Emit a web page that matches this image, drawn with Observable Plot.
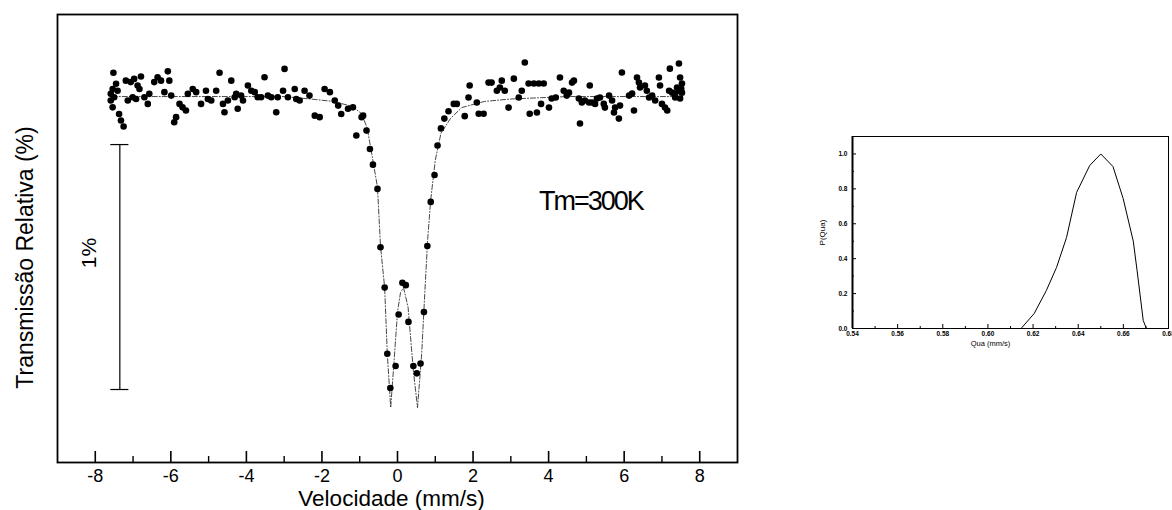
<!DOCTYPE html>
<html><head><meta charset="utf-8">
<script src="https://cdn.jsdelivr.net/npm/d3@7"></script>
<script src="https://cdn.jsdelivr.net/npm/@observablehq/plot@0.6"></script>
<style>
html,body{margin:0;padding:0;background:#fff;}
#wrap{position:relative;width:1172px;height:510px;overflow:hidden;background:#fff;}
#main{position:absolute;left:0;top:0;}
#inset{position:absolute;left:800px;top:120px;}
</style></head><body><div id="wrap"><div id="main"></div><div id="inset"></div></div>
<script>
// ---- Main spectrum: measured points (velocity mm/s, relative transmission %)
const velocity = [-7.52,-7.45,-7.54,-7.59,-7.50,-7.59,-7.54,-7.37,-7.32,-7.25,-7.41,-7.19,-7.06,-6.97,-6.88,-6.79,-6.83,-7.01,-7.14,-6.92,-6.70,-6.61,-6.57,-6.44,-6.35,-6.26,-6.08,-6.04,-6.17,-5.99,-5.86,-5.91,-5.77,-5.69,-5.60,-5.55,-5.42,-5.33,-5.20,-5.07,-5.02,-4.93,-4.80,-4.71,-4.62,-4.58,-4.49,-4.40,-4.31,-4.27,-4.23,-4.14,-4.09,-3.96,-3.87,-3.78,-3.70,-3.61,-3.52,-3.43,-3.34,-3.21,-3.17,-3.03,-2.99,-2.90,-2.72,-2.68,-2.59,-2.46,-2.33,-2.19,-2.06,-1.93,-1.79,-1.66,-1.57,-1.49,-1.31,-1.18,-1.09,-0.95,-0.91,-0.82,-0.73,-0.65,-0.53,-0.45,-0.34,-0.27,-0.19,-0.05,0.03,0.13,0.22,0.29,0.42,0.51,0.61,0.70,0.79,0.88,0.98,1.06,1.15,1.24,1.35,1.49,1.57,1.78,1.88,1.91,2.10,2.15,2.28,2.41,2.49,2.63,2.71,2.76,2.84,2.94,3.08,3.21,3.29,3.37,3.47,3.61,3.74,3.87,3.50,3.69,3.80,4.01,4.08,4.19,4.30,4.40,4.48,4.54,4.62,4.67,4.80,4.83,4.88,4.96,5.07,5.09,5.15,5.23,5.28,5.36,5.46,5.49,5.60,5.68,5.76,5.73,5.86,5.89,5.94,6.13,6.21,6.26,6.34,6.39,6.42,6.55,6.60,6.66,6.74,6.82,6.92,6.95,7.00,7.08,7.14,7.19,7.21,7.27,7.35,7.40,7.45,7.48,7.53,7.48,7.45,7.35,7.53,7.51];
const transmission = [100.097,100.052,100.031,100.011,99.997,99.984,99.956,99.929,99.902,99.878,100.024,100.065,100.059,100.072,100.045,100.082,100.031,99.997,99.984,99.990,99.997,99.970,100.011,100.059,100.079,100.065,100.103,100.065,100.018,100.004,99.916,99.895,99.970,99.956,99.943,100.011,100.031,100.018,99.970,100.024,99.990,99.984,100.024,100.097,99.970,99.936,99.984,100.065,99.997,100.011,99.950,100.004,99.984,100.045,100.024,100.018,99.997,99.997,100.079,100.004,99.997,99.936,99.997,100.024,100.113,99.997,100.031,99.990,99.984,100.024,100.004,99.922,99.916,100.031,100.018,99.984,99.963,99.929,99.950,99.956,99.841,99.916,99.922,99.861,99.786,99.722,99.623,99.385,99.22,98.95,98.81,98.90,99.11,99.24,99.23,99.08,98.90,98.87,98.91,99.12,99.39,99.57,99.68,99.80,99.87,99.91,99.94,99.97,99.97,99.92,99.996,100.045,99.976,99.93,99.93,100.057,100.057,100.024,100.037,100.065,100.024,99.955,100.073,99.996,100.024,100.139,100.053,100.053,100.053,100.053,99.93,99.935,99.97,99.955,99.992,99.996,100.078,100.024,100.004,100.016,100.057,100.065,99.992,99.89,99.976,99.984,99.976,100.045,99.976,99.97,99.992,99.996,99.97,99.955,100.004,99.984,99.955,99.935,99.91,99.963,100.098,100.004,100.012,99.943,100.078,100.057,100.037,100.045,100.024,99.996,100.004,99.984,100.078,100.045,99.97,99.955,99.943,100.024,100.114,100.016,100.012,100.037,100.135,100.078,100.053,99.992,100.024,99.996,100.016,100.033];

// ---- Fitted curve
const fitVelocity = [-7.55,-3.0,-2.3,-1.7,-1.2,-0.95,-0.8,-0.72,-0.63,-0.53,-0.45,-0.34,-0.27,-0.18,-0.1,0.0,0.08,0.16,0.28,0.42,0.53,0.64,0.72,0.8,0.88,1.0,1.15,1.4,1.7,2.3,3.0,4.5,7.55];
const fitTransmission = [100.0,100.0,99.99,99.98,99.96,99.93,99.87,99.8,99.72,99.63,99.39,99.22,98.95,98.73,98.9,99.12,99.2,99.22,99.14,98.88,98.73,98.95,99.19,99.42,99.58,99.74,99.85,99.91,99.955,99.98,99.99,100.0,100.0];

// ---- Axis ticks
const xTicks = [-8,-6,-4,-2,0,2,4,6,8];
const xMinorTicks = [-7,-5,-3,-1,1,3,5,7];

// ---- Scale bar (1 %) and annotation
const scaleBarVelocity = [-7.35];
const scaleBarBottom = [98.804];
const scaleBarTop = [99.804];
const temperatureLabel = ["Tm=300K"];
const temperatureVelocity = [5.12];
const temperatureTransmission = [99.571];

// ---- Inset: quadrupole splitting distribution
const qua = [0.54,0.6147,0.6205,0.6259,0.6304,0.6348,0.6393,0.6451,0.650,0.6554,0.6599,0.6644,0.6661,0.6688,0.6702];
const pQua = [0,0,0.086,0.218,0.35,0.52,0.78,0.934,1.0,0.928,0.745,0.50,0.33,0.046,0];
const quaTicks = [0.54,0.56,0.58,0.60,0.62,0.64,0.66,0.68];
const quaMinorTicks = [0.55,0.57,0.59,0.61,0.63,0.65,0.67];
const pTicks = [0,0.2,0.4,0.6,0.8,1.0];
const pMinorTicks = [0.1,0.3,0.5,0.7,0.9];

const points = velocity.map((v,i)=>({v, t: transmission[i]}));
const fit = fitVelocity.map((v,i)=>({v, t: fitTransmission[i]}));
const capHalf = 0.24;
const bar = scaleBarVelocity.map((v,i)=>({v, lo: scaleBarBottom[i], hi: scaleBarTop[i]}));
const caps = bar.flatMap(b => [{y: b.lo, x1: b.v - capHalf, x2: b.v + capHalf}, {y: b.hi, x1: b.v - capHalf, x2: b.v + capHalf}]);
const ann = temperatureLabel.map((s,i)=>({s, v: temperatureVelocity[i], t: temperatureTransmission[i]}));
const dist = qua.map((q,i)=>({q, p: pQua[i]}));

const FONT = '"Liberation Sans", Arial, Helvetica, sans-serif';
const mainH = 510, mTop = 14, mBottom = 48;
const plotH = mainH - mTop - mBottom;

const main = Plot.plot({
  width: 760, height: mainH,
  marginLeft: 57, marginRight: 23, marginTop: mTop, marginBottom: mBottom,
  x: {type: "linear", domain: [-9, 9]},
  y: {type: "linear", domain: [98.506, 100.335], axis: null},
  style: {fontFamily: FONT, background: "white", color: "black", overflow: "visible"},
  marks: [
    Plot.axisX({ticks: xTicks, tickSize: 0, tickPadding: 7, fontSize: 18, tickFormat: d => String(d), label: null}),
    Plot.tickX(xTicks, {x: d => d, insetTop: plotH - 11, stroke: "black", strokeWidth: 1.6}),
    Plot.tickX(xMinorTicks, {x: d => d, insetTop: plotH - 6, stroke: "black", strokeWidth: 1.4}),
    Plot.frame({stroke: "black", strokeWidth: 1.8}),
    Plot.line(fit, {x: "v", y: "t", stroke: "#333", strokeWidth: 0.9, strokeDasharray: "5,2,1,2"}),
    Plot.dot(points, {x: "v", y: "t", r: 3.3, fill: "black", stroke: "none"}),
    Plot.ruleX(bar, {x: "v", y1: "lo", y2: "hi", stroke: "black", strokeWidth: 1.2}),
    Plot.ruleY(caps, {y: "y", x1: "x1", x2: "x2", stroke: "black", strokeWidth: 1.2}),
    Plot.text(bar, {x: "v", y: d => (d.lo + d.hi) / 2, text: () => "1%", rotate: -90, dx: -31, dy: -14, fontSize: 21}),
    Plot.text(ann, {x: "v", y: "t", text: "s", fontSize: 27}),
    Plot.text(["Velocidade (mm/s)"], {frameAnchor: "bottom", textAnchor: "middle", lineAnchor: "middle", text: d => d, dy: 36, dx: -6, fontSize: 22.5}),
    Plot.text(["Transmissão Relativa (%)"], {frameAnchor: "left", textAnchor: "middle", lineAnchor: "middle", text: d => d, rotate: -90, dx: -32, dy: 19, fontSize: 23})
  ]
});
d3.select(main).selectAll("text").filter(function(){return this.textContent === "Tm=300K";}).attr("letter-spacing", "-2");
document.getElementById("main").appendChild(main);

const insetH = 240, iTop = 16, iBottom = 32, iLeft = 52, iRight = 4, insetW = 372;
const iPlotH = insetH - iTop - iBottom, iPlotW = insetW - iLeft - iRight;
const inset = Plot.plot({
  width: insetW, height: insetH,
  marginLeft: iLeft, marginRight: iRight, marginTop: iTop, marginBottom: iBottom,
  x: {type: "linear", domain: [0.54, 0.68]},
  y: {type: "linear", domain: [0, 1.1]},
  style: {fontFamily: FONT, background: "white", color: "black", overflow: "visible"},
  marks: [
    Plot.axisX({ticks: quaTicks, tickSize: 0, tickPadding: 3, fontSize: 6.5, fontWeight: "bold", tickFormat: d3.format(".2f"), label: null}),
    Plot.axisY({ticks: pTicks, tickSize: 0, tickPadding: 5, fontSize: 6.5, fontWeight: "bold", tickFormat: d3.format(".1f"), label: null}),
    Plot.tickX(quaTicks, {x: d => d, insetTop: iPlotH - 4, stroke: "black"}),
    Plot.tickX(quaMinorTicks, {x: d => d, insetTop: iPlotH - 2, stroke: "black"}),
    Plot.tickY(pTicks, {y: d => d, insetRight: iPlotW - 4, stroke: "black"}),
    Plot.tickY(pMinorTicks, {y: d => d, insetRight: iPlotW - 2, stroke: "black"}),
    Plot.frame({stroke: "black", strokeWidth: 1}),
    Plot.ruleX([0.54], {stroke: "black", strokeWidth: 2}),
    Plot.line(dist, {x: "q", y: "p", stroke: "black", strokeWidth: 1}),
    Plot.text(["P(Qua)"], {frameAnchor: "left", textAnchor: "middle", lineAnchor: "middle", text: d => d, rotate: -90, dx: -30, dy: 0, fontSize: 8}),
    Plot.text(["Qua (mm/s)"], {frameAnchor: "bottom", textAnchor: "middle", lineAnchor: "middle", text: d => d, dy: 15, dx: -20, fontSize: 7.5})
  ]
});
document.getElementById("inset").appendChild(inset);
</script></body></html>
